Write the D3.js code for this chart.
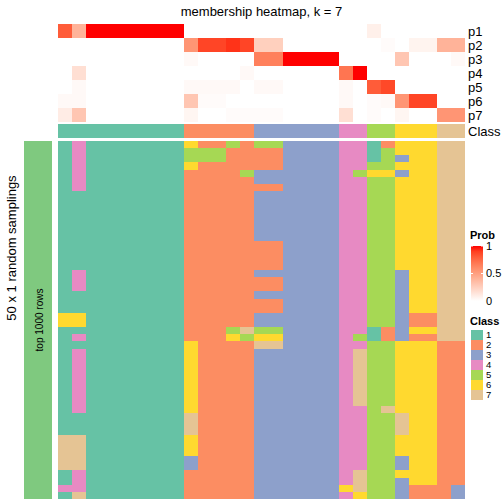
<!DOCTYPE html>
<html>
<head>
<meta charset="utf-8">
<script src="https://cdn.jsdelivr.net/npm/d3@7"></script>
<style>
  body { margin: 0; background: #fff; }
  svg { display: block; font-family: "Liberation Sans", Arial, sans-serif; }
</style>
</head>
<body>
<svg id="chart" width="504" height="504"></svg>
<script>
// ---------------- data ----------------
const title = "membership heatmap, k = 7";
const probRowNames = ["p1", "p2", "p3", "p4", "p5", "p6", "p7"];
const classLevels = [1, 2, 3, 4, 5, 6, 7];
const classColors = ["#66C2A5", "#FC8D62", "#8DA0CB", "#E78AC3", "#A6D854", "#FFD92F", "#E5C494"];
// class of each of the 29 columns
const columnClass = [1,1,1,1,1,1,1,1,1, 2,2,2,2,2, 3,3,3,3,3,3, 4,4, 5,5, 6,6,6, 7,7];
// membership probabilities (rows p1..p7, 29 columns)
const p1 = [0.8,0.4,1,1,1,1,1,1,1, 0,0,0,0,0, 0,0,0,0,0,0, 0,0, 0.08,0, 0,0,0, 0,0];
const p2 = [0,0,0,0,0,0,0,0,0, 0.55,0.88,0.88,0.93,0.88, 0.25,0.25,0,0,0,0, 0,0, 0,0.02, 0,0.06,0.06, 0.4,0.4];
const p3 = [0,0,0,0,0,0,0,0,0, 0.03,0,0,0,0, 0.65,0.65,1,1,1,1, 0,0, 0,0, 0.3,0,0, 0,0.03];
const p4 = [0,0.17,0,0,0,0,0,0,0, 0,0,0,0,0.03, 0,0,0,0,0,0, 0.7,1, 0,0, 0,0,0, 0,0];
const p5 = [0,0.03,0,0,0,0,0,0,0, 0.03,0.03,0.03,0.03,0, 0.03,0.03,0,0,0,0, 0.03,0, 0.8,0.87, 0,0,0, 0,0];
const p6 = [0.03,0.03,0,0,0,0,0,0,0, 0.3,0.02,0.02,0,0, 0,0,0,0,0,0, 0.03,0, 0.02,0.03, 0.55,0.88,0.88, 0,0];
const p7 = [0.1,0.3,0,0,0,0,0,0,0, 0.05,0,0,0.02,0.02, 0.02,0.02,0,0,0,0, 0.17,0, 0.02,0, 0.05,0,0, 0.55,0.55];
const membership = [p1, p2, p3, p4, p5, p6, p7];
// 50 random samplings x 29 columns, class labels (spaces only group the columns)
const samplingRows = [
  "141111111 62252 553333 44 12 666 77",
  "141111111 55522 223333 44 15 666 77",
  "141111111 55522 223333 44 15 366 77",
  "141111111 62222 223333 44 55 666 77",
  "141111111 22225 333333 45 66 366 77",
  "141111111 22222 333333 44 55 666 77",
  "141111111 22222 223333 44 55 666 77",
  "111111111 22222 333333 44 55 666 77",
  "111111111 22222 333333 44 55 666 77",
  "111111111 22222 333333 44 55 666 77",
  "111111111 22222 333333 44 55 666 77",
  "111111111 22222 333333 44 55 666 77",
  "111111111 22222 333333 44 55 666 77",
  "111111111 22222 333333 44 55 666 77",
  "111111111 22222 223333 44 55 666 77",
  "111111111 22222 223333 44 55 666 77",
  "111111111 22222 223333 44 55 666 77",
  "111111111 22222 223333 44 55 666 77",
  "141111111 22222 333333 44 55 366 77",
  "141111111 22222 223333 44 55 366 77",
  "141111111 22222 223333 44 55 366 77",
  "111111111 22222 333333 44 55 366 77",
  "111111111 22222 223333 44 55 366 77",
  "111111111 22222 223333 44 55 366 77",
  "661111111 22222 333333 44 55 322 77",
  "661111111 22222 333333 44 55 322 77",
  "111111111 22257 553333 44 12 366 77",
  "141111111 22265 663333 45 12 322 77",
  "111111111 62222 773333 44 55 666 22",
  "141111111 62222 333333 47 55 666 22",
  "141111111 62222 333333 47 55 666 22",
  "141111111 62222 333333 47 55 666 22",
  "141111111 62222 333333 47 55 666 22",
  "141111111 62222 333333 47 55 666 22",
  "141111111 62222 333333 47 55 666 22",
  "141111111 62222 333333 47 55 666 22",
  "141111111 62222 333333 47 55 666 22",
  "141111111 62222 333333 44 57 666 22",
  "111111111 72222 333333 44 55 766 22",
  "111111111 72222 333333 44 55 766 22",
  "111111111 72222 333333 44 55 766 22",
  "771111111 62222 333333 44 55 666 22",
  "771111111 62222 333333 44 55 666 22",
  "771111111 62222 333333 44 55 666 22",
  "771111111 32222 333333 44 55 366 22",
  "771111111 32222 333333 44 55 366 22",
  "141111111 22222 333333 47 55 666 22",
  "141111111 22222 333333 47 55 366 22",
  "441111111 22222 333333 67 55 322 23",
  "171111111 22222 333333 46 55 322 23"
];
const probTicks = [0, 0.5, 1];
const rowTitle = "50 x 1 random samplings";
const sliceLabel = "top 1000 rows";
const sliceColor = "#7FC97F";

// ---------------- drawing ----------------
const svg = d3.select("#chart");
const nCol = columnClass.length;
const grid = samplingRows.map(s => s.replace(/\s+/g, "").split("").map(Number));

const x = d3.scaleBand().domain(d3.range(nCol)).range([58, 465]);
const yProb = d3.scaleBand().domain(probRowNames).range([24, 122]);
const yGrid = d3.scaleBand().domain(d3.range(grid.length)).range([141, 499]);
const classColor = d3.scaleOrdinal().domain(classLevels).range(classColors);
const probColor = d3.scaleLinear().domain([0, 1]).range(["#FFFFFF", "#FF0000"]).interpolate(d3.interpolateLab);

// title
svg.append("text").attr("x", 261.5).attr("y", 16).attr("text-anchor", "middle")
  .attr("font-size", 13).text(title);

// membership heatmap
const gm = svg.append("g").attr("shape-rendering", "crispEdges");
membership.forEach((row, ri) => {
  gm.selectAll(null).data(row).enter().append("rect")
    .attr("x", (d, i) => x(i)).attr("y", yProb(probRowNames[ri]))
    .attr("width", x.bandwidth() + 0.3).attr("height", yProb.bandwidth() + 0.3)
    .attr("fill", d => probColor(d));
});
// class annotation row
gm.selectAll(null).data(columnClass).enter().append("rect")
  .attr("x", (d, i) => x(i)).attr("y", 124)
  .attr("width", x.bandwidth() + 0.3).attr("height", 14)
  .attr("fill", d => classColor(d));

// row labels
svg.selectAll(null).data(probRowNames).enter().append("text")
  .attr("x", 468).attr("y", d => yProb(d) + yProb.bandwidth() / 2)
  .attr("dy", "0.36em").attr("font-size", 13).text(d => d);
svg.append("text").attr("x", 468).attr("y", 131).attr("dy", "0.36em")
  .attr("font-size", 13).text("Class");

// sampling heatmap
const gs = svg.append("g").attr("shape-rendering", "crispEdges");
grid.forEach((row, ri) => {
  gs.selectAll(null).data(row).enter().append("rect")
    .attr("x", (d, i) => x(i)).attr("y", yGrid(ri))
    .attr("width", x.bandwidth() + 0.3).attr("height", yGrid.bandwidth() + 0.3)
    .attr("fill", d => classColor(d));
});

// slice bar + titles
svg.append("rect").attr("x", 24).attr("y", 141).attr("width", 28).attr("height", 358)
  .attr("fill", sliceColor).attr("shape-rendering", "crispEdges");
svg.append("text").attr("transform", "translate(39,320) rotate(-90)")
  .attr("text-anchor", "middle").attr("dy", "0.36em").attr("font-size", 10).text(sliceLabel);
svg.append("text").attr("transform", "translate(11,248) rotate(-90)")
  .attr("text-anchor", "middle").attr("dy", "0.36em").attr("font-size", 13).text(rowTitle);

// Prob legend
const lx = 471, lw = 12;
svg.append("text").attr("x", lx - 1).attr("y", 239).attr("font-size", 11)
  .attr("font-weight", "bold").text("Prob");
const yLeg = d3.scaleLinear().domain([0, 1]).range([301, 246]);
const defs = svg.append("defs");
const grad = defs.append("linearGradient").attr("id", "pg")
  .attr("x1", 0).attr("x2", 0).attr("y1", 1).attr("y2", 0);
d3.range(0, 1.0001, 0.1).forEach(t => {
  grad.append("stop").attr("offset", t).attr("stop-color", probColor(t));
});
svg.append("rect").attr("x", lx).attr("y", yLeg(1)).attr("width", lw)
  .attr("height", yLeg(0) - yLeg(1)).attr("fill", "url(#pg)");
probTicks.forEach(t => {
  svg.append("line").attr("x1", lx).attr("x2", lx + 2).attr("y1", yLeg(t)).attr("y2", yLeg(t))
    .attr("stroke", "#fff").attr("stroke-width", 1);
  svg.append("line").attr("x1", lx + lw - 2).attr("x2", lx + lw).attr("y1", yLeg(t)).attr("y2", yLeg(t))
    .attr("stroke", "#fff").attr("stroke-width", 1);
});
svg.selectAll(null).data(probTicks).enter().append("text")
  .attr("x", lx + lw + 3).attr("y", d => yLeg(d)).attr("dy", "0.36em")
  .attr("font-size", 11).text(d => d);

// Class legend
svg.append("text").attr("x", lx - 1).attr("y", 325).attr("font-size", 11)
  .attr("font-weight", "bold").text("Class");
const yCls = d3.scaleBand().domain(classLevels).range([330, 400]);
svg.selectAll(null).data(classLevels).enter().append("rect")
  .attr("x", lx).attr("y", d => yCls(d)).attr("width", lw).attr("height", yCls.bandwidth())
  .attr("fill", d => classColor(d));
svg.selectAll(null).data(classLevels).enter().append("text")
  .attr("x", lx + lw + 3).attr("y", d => yCls(d) + yCls.bandwidth() / 2).attr("dy", "0.36em")
  .attr("font-size", 9.5).text(d => d);
</script>
</body>
</html>
